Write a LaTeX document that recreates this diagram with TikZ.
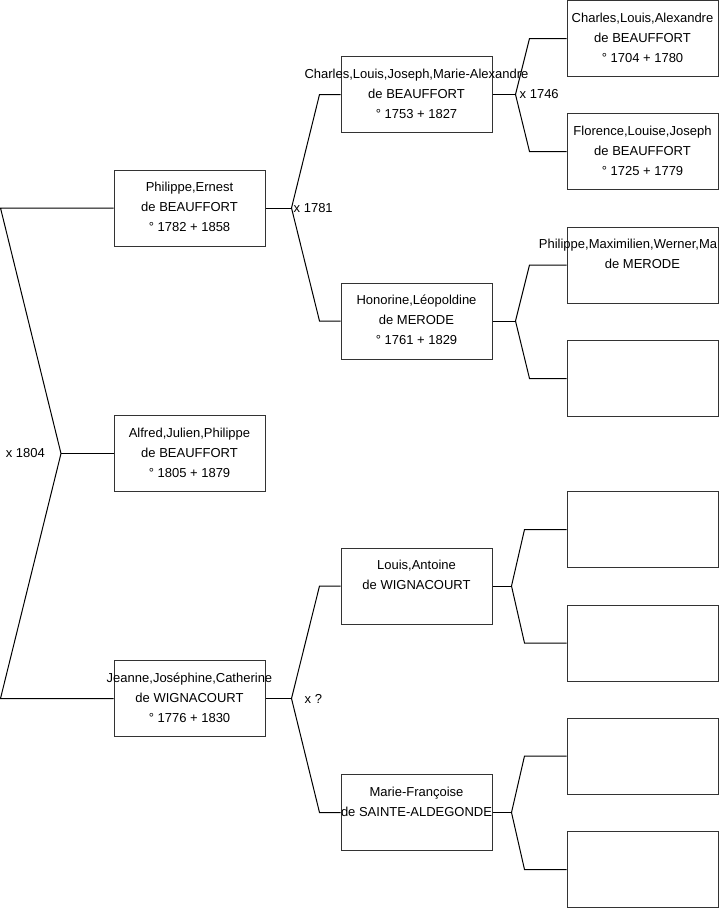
\documentclass[tikz,border=0pt]{standalone}
\usepackage{fontspec}
\setmainfont{Liberation Sans}
\usetikzlibrary{positioning}

\tikzset{
  person/.style={draw=black!80, line width=1pt, minimum width=151pt, minimum height=76pt, inner sep=0pt},
  who/.style={anchor=north, align=center, inner sep=0pt, yshift=-12.5pt, font=\fontsize{13}{20}\selectfont},
  wed/.style={inner sep=0pt, font=\fontsize{13}{16}\selectfont},
  link/.style={line width=1pt}
}

\begin{document}
\begin{tikzpicture}[x=1pt,y=-1pt]
\useasboundingbox (0,0) rectangle (719,908);
\clip (0,0) rectangle (719,908);

% generation 1
\node[person, label={[who]north:{Philippe,Ernest\\de BEAUFFORT\\° 1782 + 1858}}] (pe) at (189.5,208) {};
\node[person, label={[who]north:{Alfred,Julien,Philippe\\de BEAUFFORT\\° 1805 + 1879}}] (aj) at (189.5,453.5) {};
\node[person, label={[who]north:{Jeanne,Joséphine,Catherine\\de WIGNACOURT\\° 1776 + 1830}}] (jj) at (189.5,698.5) {};

% generation 2
\node[person, label={[who]north:{Charles,Louis,Joseph,Marie-Alexandre\\de BEAUFFORT\\° 1753 + 1827}}] (cl) at (416.5,94.5) {};
\node[person, label={[who]north:{Honorine,Léopoldine\\de MERODE\\° 1761 + 1829}}] (ho) at (416.5,321) {};
\node[person, label={[who]north:{Louis,Antoine\\de WIGNACOURT}}] (la) at (416.5,586) {};
\node[person, label={[who]north:{Marie-Françoise\\de SAINTE-ALDEGONDE}}] (mf) at (416.5,812.5) {};

% generation 3
\node[person, label={[who]north:{Charles,Louis,Alexandre\\de BEAUFFORT\\° 1704 + 1780}}] (cla) at (642.5,38.5) {};
\node[person, label={[who]north:{Florence,Louise,Joseph\\de BEAUFFORT\\° 1725 + 1779}}] (flj) at (642.5,151.5) {};
\node[person, label={[who]north:{Philippe,Maximilien,Werner,Ma\hspace*{29pt}\\de MERODE}}] (pmw) at (642.5,265) {};
\node[person] (ho2) at (642.5,378.5) {};
\node[person] (la1) at (642.5,529.5) {};
\node[person] (la2) at (642.5,643) {};
\node[person] (mf1) at (642.5,756) {};
\node[person] (mf2) at (642.5,869.5) {};

% x 1804
\coordinate (m0) at (61,453.5);
\coordinate (t0) at (0.5,208);
\coordinate (b0) at (0.5,698.5);
\draw[link] (pe.west) -- (t0) -- (m0) -- (b0) -- (jj.west);
\draw[link] (m0) -- (aj.west);
\node[wed, left=16pt of m0] (w1804) {x 1804};

% x 1781
\coordinate[right=26pt of pe.east] (m1);
\draw[link] (pe.east) -- (m1);
\draw[link] (m1) -- ([xshift=-21pt]cl.west) -- (cl.west);
\draw[link] (m1) -- ([xshift=-21pt]ho.west) -- (ho.west);
\node[wed, right=2pt of m1] (w1781) {x 1781};

% x ?
\coordinate[right=26pt of jj.east] (m4);
\draw[link] (jj.east) -- (m4);
\draw[link] (m4) -- ([xshift=-21pt]la.west) -- (la.west);
\draw[link] (m4) -- ([xshift=-21pt]mf.west) -- (mf.west);
\node[wed, right=13pt of m4] (wq) {x ?};

% x 1746
\coordinate[right=23pt of cl.east] (m2);
\draw[link] (cl.east) -- (m2);
\draw[link] (m2) -- ([xshift=-37pt]cla.west) -- (cla.west);
\draw[link] (m2) -- ([xshift=-37pt]flj.west) -- (flj.west);
\node[wed, right=4pt of m2] (w1746) {x 1746};

% merode parents
\coordinate[right=23pt of ho.east] (m3);
\draw[link] (ho.east) -- (m3);
\draw[link] (m3) -- ([xshift=-37pt]pmw.west) -- (pmw.west);
\draw[link] (m3) -- ([xshift=-37pt]ho2.west) -- (ho2.west);

% wignacourt parents
\coordinate[right=19pt of la.east] (m5);
\draw[link] (la.east) -- (m5);
\draw[link] (m5) -- ([xshift=-42pt]la1.west) -- (la1.west);
\draw[link] (m5) -- ([xshift=-42pt]la2.west) -- (la2.west);

% sainte-aldegonde parents
\coordinate[right=19pt of mf.east] (m6);
\draw[link] (mf.east) -- (m6);
\draw[link] (m6) -- ([xshift=-42pt]mf1.west) -- (mf1.west);
\draw[link] (m6) -- ([xshift=-42pt]mf2.west) -- (mf2.west);
\end{tikzpicture}
\end{document}
